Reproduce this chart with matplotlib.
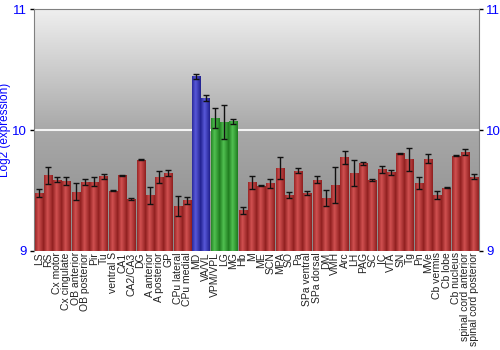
import numpy as np
import matplotlib
matplotlib.use("Agg")
import matplotlib.pyplot as plt
from matplotlib.colors import LinearSegmentedColormap

categories = ["LS", "RS", "Cx motor", "Cx cingulate", "OB anterior", "OB posterior",
              "Pir", "Tu", "ventral S", "CA1", "CA2/CA3", "DG", "A anterior",
              "A posterior", "GP", "CPu lateral", "CPu medial", "MD", "VA/VL",
              "VPM/VPL", "LG", "MG", "Hb", "M", "ME", "SCN", "MPA", "SO", "Pa",
              "SPa ventral", "SPa dorsal", "DM", "VMH", "Arc", "LH", "PAG", "SC",
              "IC", "VTA", "SN", "Tg", "Pn", "MVe", "Cb vermis", "Cb lobe",
              "Cb nucleus", "spinal cord anterior", "spinal cord posterior"]
values = [9.48, 9.625, 9.59, 9.58, 9.49, 9.575, 9.575, 9.62, 9.50, 9.625, 9.43,
          9.755, 9.46, 9.614, 9.645, 9.373, 9.42, 10.447, 10.27, 10.10, 10.07,
          10.075, 9.337, 9.567, 9.54, 9.56, 9.686, 9.46, 9.664, 9.48, 9.59,
          9.44, 9.548, 9.775, 9.647, 9.725, 9.584, 9.675, 9.65, 9.81, 9.758,
          9.56, 9.763, 9.467, 9.525, 9.79, 9.82, 9.614]
errors = [0.03, 0.07, 0.02, 0.035, 0.07, 0.025, 0.04, 0.02, 0.005, 0.006, 0.005,
          0.005, 0.07, 0.05, 0.025, 0.085, 0.03, 0.02, 0.025, 0.083, 0.14,
          0.02, 0.028, 0.057, 0.004, 0.04, 0.09, 0.025, 0.02, 0.02, 0.028,
          0.064, 0.15, 0.054, 0.11, 0.012, 0.008, 0.03, 0.02, 0.005, 0.094,
          0.05, 0.037, 0.033, 0.004, 0.005, 0.028, 0.02]
groups = ["r"] * 17 + ["b", "b"] + ["g", "g", "g"] + ["r"] * 26
yticks = [9, 10, 11]

group_colors = {
    "r": ("#8e1e1e", "#d05050"),
    "b": ("#20208e", "#5858d8"),
    "g": ("#1e7a1e", "#50c050"),
}

fig = plt.figure(figsize=(5, 3.5), dpi=100)
ax = fig.add_axes([0.068, 0.283, 0.89, 0.69])
ax.set_xlim(-0.5, len(categories) - 0.5)
ax.set_ylim(9, 11)

# background gradient
bg = LinearSegmentedColormap.from_list("bg", ["#8a8a8a", "#a8a8a8", "#efefef"])
grad = np.linspace(0, 1, 256).reshape(-1, 1)
ax.imshow(grad, cmap=bg, aspect="auto", extent=[0, 1, 0, 1],
          transform=ax.transAxes, origin="lower", zorder=0)

ax.axhline(10, color="#f4f4f4", lw=1.5, zorder=1)

x = np.arange(len(categories))
bars = ax.bar(x, np.array(values) - 9, bottom=9, width=0.88, zorder=2,
              linewidth=0)
hgrad = np.concatenate([np.linspace(0.15, 1, 40), np.linspace(1, 0, 60)]).reshape(1, -1)
for b, g in zip(bars, groups):
    dark, light = group_colors[g]
    cm = LinearSegmentedColormap.from_list("c" + g, [dark, light])
    b.set_facecolor(dark)
    bx, by = b.get_x(), b.get_y()
    im = ax.imshow(hgrad, cmap=cm, aspect="auto",
                   extent=[bx, bx + b.get_width(), by, by + b.get_height()],
                   zorder=2.5)
    im.set_clip_path(b)

ax.errorbar(x, values, yerr=errors, fmt="none", ecolor="#111111", elinewidth=1,
            capsize=2.5, capthick=1, zorder=3)

ax.set_xticks(x)
ax.set_xticklabels(categories, rotation=90, fontsize=7.5, color="#222222",
                   family="Liberation Sans")
ax.tick_params(axis="x", length=0, pad=1)
ax.set_yticks(yticks)
ax.set_yticklabels([str(t) for t in yticks])
ax.tick_params(axis="y", colors="black", labelcolor="blue", labelsize=9.5,
               length=3, width=1, left=True, right=True, labelleft=True,
               labelright=True, pad=2)
for lbl in ax.get_yticklabels():
    lbl.set_family("Liberation Sans")
ax.set_ylabel("Log2 (expression)", color="blue", fontsize=8.5,
              family="Liberation Sans")
ax.yaxis.set_label_coords(-0.051, 0.5)

for s in ["left", "right", "top"]:
    ax.spines[s].set_color("#808080")
ax.spines["bottom"].set_visible(False)

fig.savefig("out.png", dpi=100)
